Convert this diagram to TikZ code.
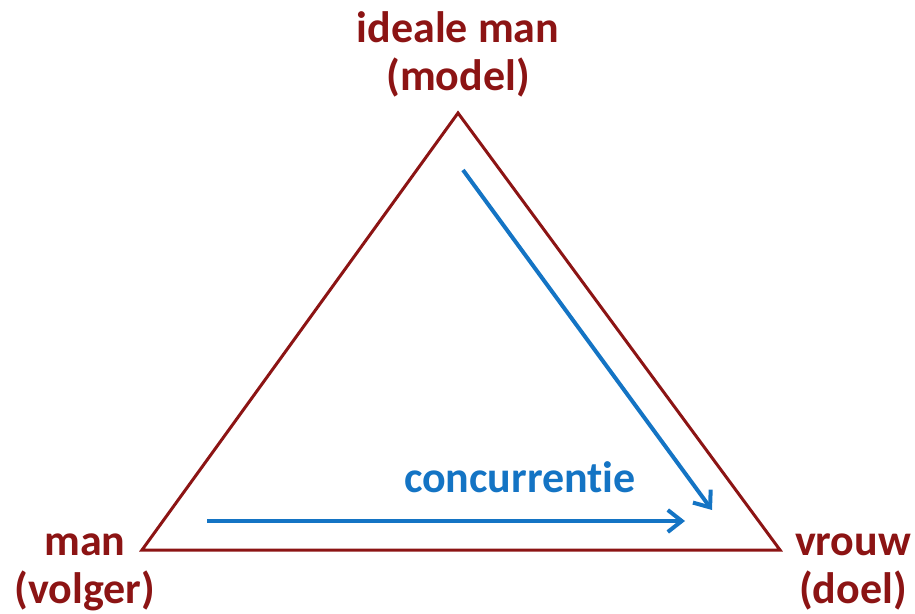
\documentclass[tikz,border=0pt]{standalone}
\usepackage{fontspec}
\setmainfont{Carlito}[RawFeature={-liga;-clig;-dlig}]
\usepackage{tikz}
\usetikzlibrary{arrows.meta,positioning}
\definecolor{darkred}{RGB}{140,20,20}
\definecolor{arrblue}{RGB}{20,116,196}

\begin{document}
\begin{tikzpicture}[
  x=0.5pt,y=-0.5pt,
  lbl/.style={align=center,inner sep=0pt,text=darkred,font=\fontsize{22}{24}\selectfont\bfseries},
  side/.style={draw=darkred,line width=1.5pt,line join=miter},
  push/.style={draw=arrblue,line width=2pt,-{Straight Barb[length=7pt,width=11pt,line width=2pt]}}
]
  \useasboundingbox (0,0) rectangle (915,614);
  \coordinate (top) at (458,113);
  \coordinate (lft) at (142,550);
  \coordinate (rgt) at (780,550);
  \draw[side] (top)--(lft)--(rgt)--cycle;
  \node[lbl] (model) at (458,54)  {ideale man\\(model)};
  \node[lbl] (volger) at (85,572) {man\\(volger)};
  \node[lbl] (doel) at (853,572)  {vrouw\\(doel)};
  \coordinate (a1) at (463,170);
  \coordinate (a2) at (712,510);
  \coordinate (b1) at (207,521);
  \coordinate (b2) at (685,521);
  \draw[push] (a1)--(a2);
  \draw[push] (b1)--(b2);
  \node[lbl,text=arrblue] (conc) at (520,477) {concurrentie};
\end{tikzpicture}
\end{document}
